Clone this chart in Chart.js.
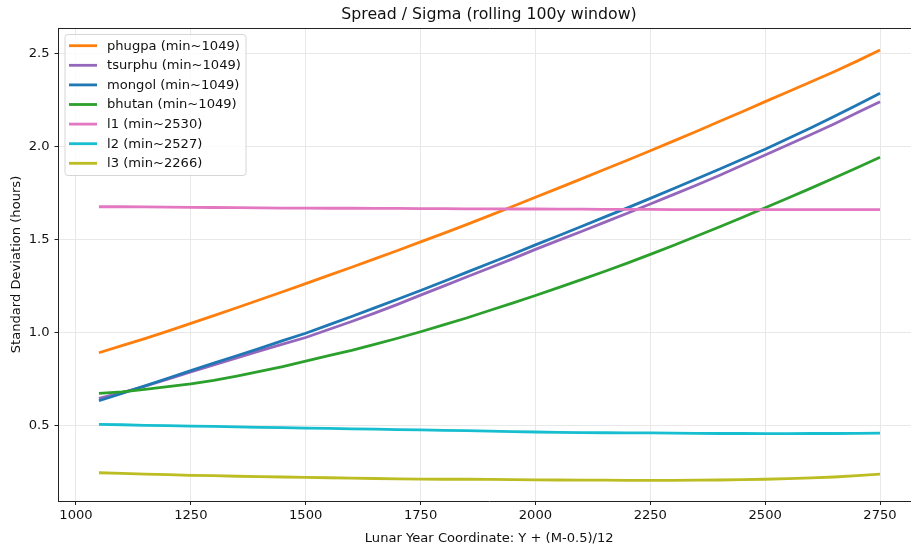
<!DOCTYPE html>
<html>
<head>
<meta charset="utf-8">
<script src="https://cdn.jsdelivr.net/npm/chart.js@4.4.0/dist/chart.umd.min.js"></script>
<style>
  html, body { margin: 0; padding: 0; background: #fff; overflow: hidden; }
  #wrap { position: relative; width: 911px; height: 546px; overflow: hidden; }
  #chart { position: absolute; left: 0; top: 0; }
</style>
</head>
<body>
<div id="wrap"><canvas id="chart" width="978" height="546"></canvas></div>
<script>
// window centres (lunar year coordinate), one sample every 50 years
const years = [1050, 1100, 1150, 1200, 1250, 1300, 1350, 1400, 1450, 1500,
  1550, 1600, 1650, 1700, 1750, 1800, 1850, 1900, 1950, 2000,
  2050, 2100, 2150, 2200, 2250, 2300, 2350, 2400, 2450, 2500,
  2550, 2600, 2650, 2700, 2750];

const phugpa = [0.890, 0.928, 0.966, 1.006, 1.048, 1.090, 1.132, 1.175, 1.218, 1.262,
  1.306, 1.350, 1.395, 1.440, 1.486, 1.532, 1.579, 1.627, 1.676, 1.726,
  1.775, 1.825, 1.875, 1.925, 1.976, 2.028, 2.080, 2.133, 2.186, 2.240,
  2.293, 2.347, 2.401, 2.458, 2.518];
const tsurphu = [0.645, 0.676, 0.710, 0.748, 0.787, 0.825, 0.862, 0.900, 0.936, 0.972,
  1.015, 1.058, 1.103, 1.150, 1.200, 1.248, 1.297, 1.346, 1.395, 1.446,
  1.494, 1.542, 1.591, 1.640, 1.690, 1.740, 1.791, 1.843, 1.898, 1.953,
  2.008, 2.063, 2.120, 2.180, 2.240];
const mongol = [0.632, 0.672, 0.712, 0.753, 0.794, 0.834, 0.874, 0.914, 0.955, 0.995,
  1.040, 1.085, 1.131, 1.178, 1.225, 1.273, 1.322, 1.371, 1.420, 1.470,
  1.519, 1.569, 1.619, 1.669, 1.720, 1.772, 1.824, 1.877, 1.930, 1.984,
  2.042, 2.100, 2.160, 2.222, 2.285];
const bhutan = [0.672, 0.680, 0.693, 0.708, 0.723, 0.742, 0.765, 0.790, 0.816, 0.845,
  0.874, 0.903, 0.935, 0.968, 1.003, 1.040, 1.077, 1.117, 1.157, 1.198,
  1.240, 1.283, 1.327, 1.372, 1.419, 1.467, 1.516, 1.566, 1.617, 1.670,
  1.722, 1.775, 1.830, 1.885, 1.941];
const l1 = [1.675, 1.675, 1.674, 1.673, 1.672, 1.671, 1.670, 1.669, 1.668, 1.668,
  1.667, 1.667, 1.666, 1.666, 1.665, 1.665, 1.664, 1.664, 1.663, 1.663,
  1.662, 1.662, 1.661, 1.661, 1.661, 1.660, 1.660, 1.660, 1.660, 1.659,
  1.659, 1.660, 1.660, 1.660, 1.660];
const l2 = [0.505, 0.503, 0.500, 0.498, 0.496, 0.494, 0.492, 0.489, 0.487, 0.485,
  0.483, 0.481, 0.479, 0.477, 0.475, 0.473, 0.471, 0.469, 0.466, 0.464,
  0.462, 0.461, 0.460, 0.459, 0.459, 0.458, 0.457, 0.456, 0.456, 0.455,
  0.455, 0.456, 0.456, 0.457, 0.458];
const l3 = [0.245, 0.242, 0.238, 0.235, 0.231, 0.229, 0.226, 0.224, 0.222, 0.220,
  0.218, 0.216, 0.214, 0.212, 0.211, 0.210, 0.210, 0.209, 0.208, 0.207,
  0.206, 0.205, 0.205, 0.204, 0.204, 0.204, 0.205, 0.206, 0.208, 0.210,
  0.213, 0.217, 0.222, 0.229, 0.237];

const seriesNames = ['phugpa (min~1049)', 'tsurphu (min~1049)', 'mongol (min~1049)',
  'bhutan (min~1049)', 'l1 (min~2530)', 'l2 (min~2527)', 'l3 (min~2266)'];
const seriesValues = [phugpa, tsurphu, mongol, bhutan, l1, l2, l3];
const seriesColors = ['#ff7f0e', '#9467bd', '#1f77b4', '#2ca02c', '#e377c2', '#17becf', '#bcbd22'];

const xTicks = [1000, 1250, 1500, 1750, 2000, 2250, 2500, 2750];
const yTicks = [0.5, 1.0, 1.5, 2.0, 2.5];

const FONT = "'DejaVu Sans', sans-serif";
const TXT = 13.1;

const datasets = seriesValues.map((vals, i) => ({
  label: seriesNames[i],
  data: years.map((yr, k) => ({ x: yr, y: vals[k] })),
  borderColor: seriesColors[i],
  backgroundColor: seriesColors[i],
  borderWidth: 2.8,
  pointRadius: 0,
  tension: 0,
  order: seriesValues.length - i // later series drawn on top
}));

// top and right spines of the axes box
const boxSpines = {
  id: 'boxSpines',
  afterDraw(chart) {
    const { ctx, chartArea: ca } = chart;
    const t = Math.round(ca.top) + 0.5;
    ctx.save();
    ctx.strokeStyle = '#222';
    ctx.lineWidth = 1;
    ctx.beginPath();
    ctx.moveTo(ca.left, t);
    ctx.lineTo(ca.right, t);
    ctx.lineTo(ca.right, ca.bottom);
    ctx.stroke();
    ctx.restore();
  }
};

// legend box in the upper left corner of the plot
const innerLegend = {
  id: 'innerLegend',
  afterDatasetsDraw(chart) {
    const { ctx, chartArea: ca } = chart;
    const x = ca.left + 6.5, y = ca.top + 6.5, w = 181, h = 141, r = 3;
    ctx.save();
    ctx.beginPath();
    ctx.moveTo(x + r, y);
    ctx.arcTo(x + w, y, x + w, y + h, r);
    ctx.arcTo(x + w, y + h, x, y + h, r);
    ctx.arcTo(x, y + h, x, y, r);
    ctx.arcTo(x, y, x + w, y, r);
    ctx.closePath();
    ctx.fillStyle = 'rgba(255,255,255,0.8)';
    ctx.fill();
    ctx.strokeStyle = '#d6d6d6';
    ctx.lineWidth = 1;
    ctx.stroke();

    ctx.font = TXT + 'px ' + FONT;
    ctx.textBaseline = 'middle';
    ctx.textAlign = 'left';
    chart.data.datasets.forEach((ds, i) => {
      const cy = ca.top + 17.7 + i * 19.6;
      ctx.strokeStyle = ds.borderColor;
      ctx.lineWidth = 2.8;
      ctx.beginPath();
      ctx.moveTo(ca.left + 10.5, cy);
      ctx.lineTo(ca.left + 38.5, cy);
      ctx.stroke();
      ctx.fillStyle = '#111';
      ctx.fillText(ds.label, ca.left + 48.5, cy + 0.5);
    });
    ctx.restore();
  }
};

new Chart(document.getElementById('chart'), {
  type: 'line',
  data: { datasets },
  options: {
    responsive: false,
    animation: false,
    devicePixelRatio: 1,
    layout: { padding: 0 },
    plugins: {
      legend: { display: false },
      tooltip: { enabled: false },
      title: {
        display: true,
        text: 'Spread / Sigma (rolling 100y window)',
        color: '#111',
        font: { family: FONT, size: 15.75, weight: 'normal', lineHeight: 1.2 },
        padding: { top: 5, bottom: 4.1 }
      }
    },
    scales: {
      x: {
        type: 'linear',
        min: 962,
        max: 2837,
        afterFit(scale) { scale.height = 45; },
        afterBuildTicks(scale) { scale.ticks = xTicks.map(v => ({ value: v })); },
        grid: { color: '#e8e8e8', tickColor: '#222', tickLength: 4, lineWidth: 1 },
        border: { color: '#222', width: 1 },
        ticks: {
          color: '#111',
          font: { family: FONT, size: TXT },
          padding: 3,
          maxRotation: 0,
          callback: v => String(v)
        },
        title: {
          display: true,
          text: 'Lunar Year Coordinate: Y + (M-0.5)/12',
          color: '#111',
          font: { family: FONT, size: TXT, lineHeight: 1.2 },
          padding: { top: 2.5, bottom: 0 }
        }
      },
      y: {
        min: 0.093,
        max: 2.636,
        afterFit(scale) { scale.width = 58.5; },
        afterBuildTicks(scale) { scale.ticks = yTicks.map(v => ({ value: v })); },
        grid: { color: '#e8e8e8', tickColor: '#222', tickLength: 4, lineWidth: 1 },
        border: { color: '#222', width: 1 },
        ticks: {
          color: '#111',
          font: { family: FONT, size: TXT },
          padding: 5,
          callback: v => v.toFixed(1)
        },
        title: {
          display: true,
          text: 'Standard Deviation (hours)',
          color: '#111',
          font: { family: FONT, size: TXT, lineHeight: 1.2 },
          padding: { top: 9, bottom: 0 }
        }
      },
      // empty right-hand margin so the title centres over the axes box
      yRight: {
        position: 'right',
        afterFit(scale) { scale.width = 58; },
        grid: { display: false },
        border: { display: false },
        ticks: { display: false }
      }
    }
  },
  plugins: [boxSpines, innerLegend]
});
</script>
</body>
</html>
